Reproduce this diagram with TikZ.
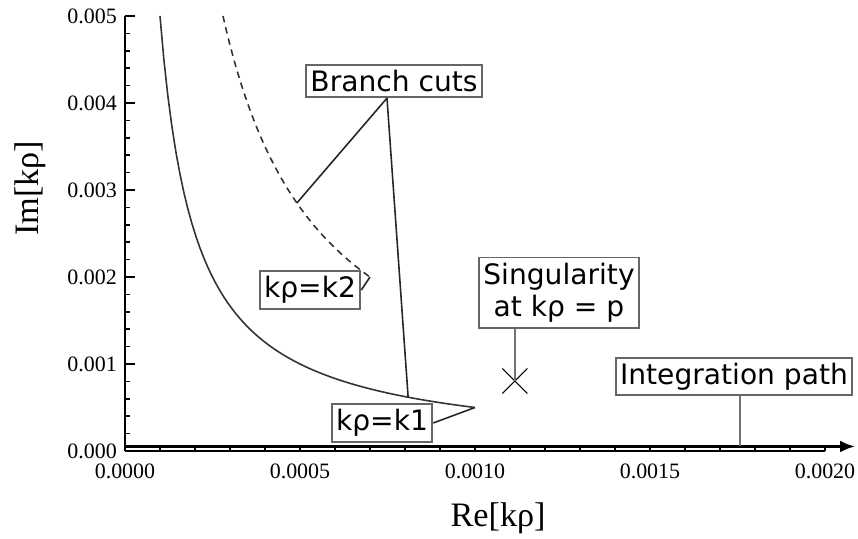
\documentclass[tikz,border=0pt]{standalone}
\usepackage{fontspec}
\setmainfont{Liberation Serif}
\newfontfamily\annotfont{DejaVu Sans}
\usetikzlibrary{arrows.meta, positioning, shapes.misc}

\begin{document}
\begin{tikzpicture}[
    x=0.7cm, y=0.174cm,
    tag/.style={rectangle, draw=black!60, line width=1.1pt, fill=white, inner xsep=2.5pt, inner ysep=3pt, align=center, font=\annotfont\fontsize{16}{18.5}\selectfont},
    pointer/.style={line width=0.9pt, black!85},
    greypointer/.style={line width=1.4pt, black!55},
    cut/.style={line width=0.9pt, black!80},
    axislabel/.style={font=\fontsize{19.5}{22}\selectfont},
    ticklabel/.style={inner sep=1pt, font=\fontsize{12.5}{14}\selectfont}
]
\useasboundingbox (-3.571,-10.115) rectangle (20.943,51.839);

% Axes and ticks
\draw[line width=0.8pt] (0,0) -- (20,0);
\draw[line width=1pt] (0,0) -- (0,50);
\foreach \i in {0,...,20}
    \draw[line width=0.8pt] (\i,0) -- ++(0,0.1cm);
\foreach \j in {0,2,...,50}
    \draw[line width=0.8pt] (0,\j) -- ++(0.1cm,0);
\foreach \j in {0,10,...,50}
    \draw[line width=0.8pt] (0,\j) -- ++(0.2cm,0);

% Tick labels
\foreach \j/\t in {0/0.000, 10/0.001, 20/0.002, 30/0.003, 40/0.004, 50/0.005}
    \node (ylab\j) [ticklabel, anchor=east] at ([xshift=-0.12cm]0,\j) {\t};
\foreach \i/\t in {0/0.0000, 5/0.0005, 10/0.0010, 15/0.0015, 20/0.0020}
    \node (xlab\i) [ticklabel, anchor=north] at ([yshift=-0.22cm]\i,0) {\t};

% Axis labels
\node (imlabel) [axislabel, rotate=90] at (-2.714,30.2) {Im[kρ]};
\node (relabel) [axislabel] at (10.66,-7.7) {Re[kρ]};

% Branch cuts
\draw[cut] plot[domain=1:10, samples=80] (\x,{50/\x});
\draw[cut, dash pattern=on 0.13cm off 0.1cm] plot[domain=2.8:7, samples=60] (\x,{140/\x});

% Points on the picture
\coordinate (k1) at (10,5);
\coordinate (k2) at (7,20);
\coordinate (cutA) at (4.91,28.5);
\coordinate (cutB) at (8.09,6.18);
\coordinate (pathstart) at (0,0.52);
\coordinate (pathend) at (20.86,0.52);
\coordinate (pathfoot) at (17.57,0.52);

% Integration path
\draw[line width=1.7pt, -{Latex[length=0.3cm,width=0.24cm]}] (pathstart) -- (pathend);

% Singularity
\node (pmark) [cross out, draw, line width=0.6pt, inner sep=0pt, minimum size=0.48cm] at (11.14,8.05) {};

% Labels
\node (bcuts) [tag] at (7.686,42.53) {Branch cuts};
\node (lk2) [tag] at (5.286,18.5) {kρ=k2};
\node (lk1) [tag] at (7.343,3.22) {kρ=k1};
\node (sing) [tag] at (12.4,18.2) {Singularity\\at kρ = p};
\node (intpath) [tag] at (17.4,8.56) {Integration path};

% Pointers
\draw[pointer] ([xshift=-0.14cm]bcuts.south) -- (cutA);
\draw[pointer] ([xshift=-0.14cm]bcuts.south) -- (cutB);
\draw[pointer] (lk2.east) -- (k2);
\draw[pointer] (lk1.east) -- (k1);
\draw[greypointer] (sing.south -| pmark) -- (pmark.center);
\draw[greypointer] (intpath.south -| pathfoot) -- (pathfoot);

\end{tikzpicture}
\end{document}
